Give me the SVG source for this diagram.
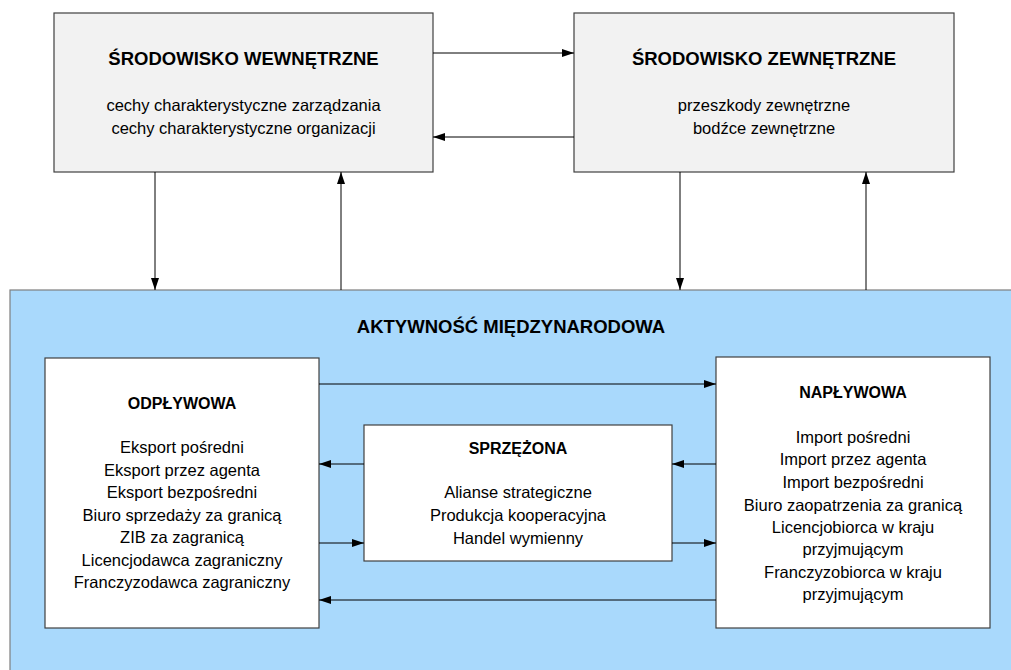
<svg xmlns="http://www.w3.org/2000/svg" width="1011" height="670" viewBox="0 0 1011 670">
  <style>
    .env { fill: #f2f2f2; stroke: #404040; stroke-width: 1.2; }
    .box { fill: #ffffff; stroke: #404040; stroke-width: 1.2; }
    .area { fill: #a9d9fc; stroke: #7f7f7f; stroke-width: 1.2; }
    .title { font-family: "Liberation Sans", Arial, sans-serif; font-weight: bold; font-size: 18.5px; fill: #000; text-anchor: middle; }
    .sub { font-family: "Liberation Sans", Arial, sans-serif; font-weight: bold; font-size: 16px; fill: #000; text-anchor: middle; }
    .txt { font-family: "Liberation Sans", Arial, sans-serif; font-size: 16.5px; fill: #000; text-anchor: middle; }
    .link { stroke: #000; stroke-width: 1; fill: none; marker-end: url(#arrow); }
  </style>
  <defs>
    <marker id="arrow" viewBox="0 0 12 8" refX="12" refY="4" markerWidth="12" markerHeight="8" markerUnits="userSpaceOnUse" orient="auto">
      <path d="M0,0 L12,4 L0,8 Z" fill="#000"/>
    </marker>
  </defs>

  <!-- outer activity area -->
  <g id="aktywnosc">
    <rect class="area" x="10" y="290" width="1010" height="390"/>
    <text class="title" x="511" y="333">AKTYWNOŚĆ MIĘDZYNARODOWA</text>
  </g>

  <g id="srodowisko-wewnetrzne">
    <rect class="env" x="54" y="13" width="379" height="159"/>
    <text class="title" x="243.5" y="65">ŚRODOWISKO WEWNĘTRZNE</text>
    <text class="txt" x="243.5" y="111">cechy charakterystyczne zarządzania</text>
    <text class="txt" x="243.5" y="134">cechy charakterystyczne organizacji</text>
  </g>

  <g id="srodowisko-zewnetrzne">
    <rect class="env" x="574" y="13" width="380" height="159"/>
    <text class="title" x="764" y="65">ŚRODOWISKO ZEWNĘTRZNE</text>
    <text class="txt" x="764" y="111">przeszkody zewnętrzne</text>
    <text class="txt" x="764" y="134">bodźce zewnętrzne</text>
  </g>

  <g id="odplywowa">
    <rect class="box" x="45" y="358" width="274" height="270"/>
    <text class="sub" x="182" y="409">ODPŁYWOWA</text>
    <text class="txt" x="182" y="453">Eksport pośredni</text>
    <text class="txt" x="182" y="476">Eksport przez agenta</text>
    <text class="txt" x="182" y="498">Eksport bezpośredni</text>
    <text class="txt" x="182" y="521">Biuro sprzedaży za granicą</text>
    <text class="txt" x="182" y="543">ZIB za zagranicą</text>
    <text class="txt" x="182" y="566">Licencjodawca zagraniczny</text>
    <text class="txt" x="182" y="588">Franczyzodawca zagraniczny</text>
  </g>

  <g id="sprzezona">
    <rect class="box" x="364" y="425" width="308" height="136"/>
    <text class="sub" x="518" y="454">SPRZĘŻONA</text>
    <text class="txt" x="518" y="498">Alianse strategiczne</text>
    <text class="txt" x="518" y="521">Produkcja kooperacyjna</text>
    <text class="txt" x="518" y="544">Handel wymienny</text>
  </g>

  <g id="naplywowa">
    <rect class="box" x="716" y="357" width="274" height="271"/>
    <text class="sub" x="853" y="398">NAPŁYWOWA</text>
    <text class="txt" x="853" y="443">Import pośredni</text>
    <text class="txt" x="853" y="465">Import przez agenta</text>
    <text class="txt" x="853" y="488">Import bezpośredni</text>
    <text class="txt" x="853" y="511">Biuro zaopatrzenia za granicą</text>
    <text class="txt" x="853" y="533">Licencjobiorca w kraju</text>
    <text class="txt" x="853" y="555">przyjmującym</text>
    <text class="txt" x="853" y="578">Franczyzobiorca w kraju</text>
    <text class="txt" x="853" y="600">przyjmującym</text>
  </g>

  <g id="connectors">
    <!-- between environments -->
    <line class="link" x1="433" y1="53" x2="574" y2="53"/>
    <line class="link" x1="574" y1="137" x2="433" y2="137"/>
    <!-- environments to activity area -->
    <line class="link" x1="155" y1="172" x2="155" y2="290"/>
    <line class="link" x1="341" y1="290" x2="341" y2="172"/>
    <line class="link" x1="680" y1="172" x2="680" y2="290"/>
    <line class="link" x1="866" y1="290" x2="866" y2="172"/>
    <!-- inside activity area -->
    <line class="link" x1="319" y1="384" x2="716" y2="384"/>
    <line class="link" x1="364" y1="464" x2="319" y2="464"/>
    <line class="link" x1="716" y1="464" x2="672" y2="464"/>
    <line class="link" x1="319" y1="543" x2="364" y2="543"/>
    <line class="link" x1="672" y1="543" x2="716" y2="543"/>
    <line class="link" x1="716" y1="600" x2="319" y2="600"/>
  </g>
</svg>
